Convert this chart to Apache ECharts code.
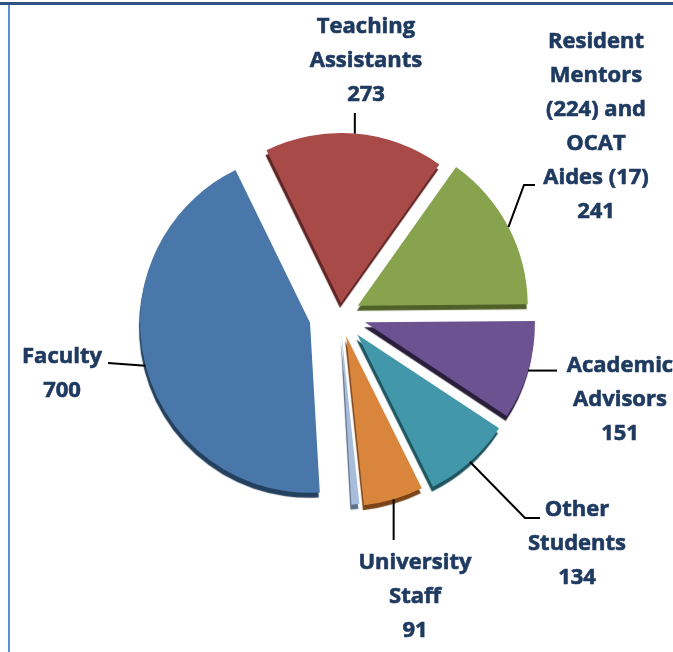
<!DOCTYPE html>
<html><head><meta charset="utf-8">
<script src="https://cdn.jsdelivr.net/npm/echarts@6/dist/echarts.min.js"></script>
<style>html,body{margin:0;padding:0;background:#fff}#c{width:673px;height:652px}</style>
</head><body><div id="c"></div>
<script>
// ---- data ----
const categories = ['Teaching\nAssistants', 'Resident\nMentors\n(224) and\nOCAT\nAides (17)', 'Academic\nAdvisors', 'Other\nStudents', 'University\nStaff', '', 'Faculty'];
const values = [273, 241, 151, 134, 91, 12, 700];
const showLabel = [true, true, true, true, true, false, true];

// ---- styles ----
const colors = ['#A84A48', '#88A34E', '#6C5290', '#4397AA', '#D9853B', '#A8BDDC', '#4A77AA'];
const shades = ['#5E2423', '#4F6129', '#2A1F3A', '#1F555F', '#7A4418', '#5F6F8A', '#24405F'];
const explode = [12, 20, 26, 26, 22, 20, 31];
// label block centres and elbow routes (layout only)
const labelPlaces = [
  {x: 366, y: 61,  route: (s) => [s, [s[0], 113]]},
  {x: 596, y: 127, route: (s) => [s, [524, 185], [535, 185]]},
  {x: 620, y: 400, route: (s) => [s, [557, s[1]]]},
  {x: 577, y: 544, route: (s) => [s, [525, 518], [540, 518]]},
  {x: 415, y: 597, route: (s) => [s, [s[0], 540]]},
  null,
  {x: 62,  y: 374, route: (s) => [s, [108, 363]]}
];
const textFont = 'bold 22px "Open Sans"';

const chart = echarts.init(document.getElementById('c'), null, {renderer: 'canvas'});

// one pie series per exploded slice so each slice can have its own offset;
// every series lays out the full data so the angles come from the library
const series = values.map((_, k) => ({
  type: 'pie',
  center: [340, 315],
  radius: [0, 170],
  startAngle: 116,
  clockwise: true,
  silent: true,
  selectedMode: 'multiple',
  selectedOffset: explode[k],
  emphasis: {disabled: true},
  label: {show: false},
  labelLine: {show: false},
  data: values.map((v, i) => ({
    name: categories[i],
    value: v,
    selected: i === k,
    itemStyle: i === k ? {
      color: colors[i],
      shadowColor: shades[i],
      shadowBlur: 1,
      shadowOffsetX: -1,
      shadowOffsetY: 5
    } : {color: 'rgba(0,0,0,0)', borderWidth: 0}
  }))
}));

const borders = [
  {type: 'rect', shape: {x: 0, y: 2, width: 673, height: 3}, style: {fill: '#2E5283'}, z: 10},
  {type: 'rect', shape: {x: 8, y: 5, width: 2, height: 647}, style: {fill: '#5B8FD4'}, z: 10}
];

chart.setOption({
  animation: false,
  backgroundColor: '#ffffff',
  graphic: borders,
  series: series
});

// Labels and leader lines placed from the library's own slice layout
const extra = [];
values.forEach((v, i) => {
  const p = labelPlaces[i];
  if (!p || !showLabel[i]) return;
  const sd = chart.getModel().getSeriesByIndex(i).getData();
  const lay = sd.getItemLayout(i);
  const mid = (lay.startAngle + lay.endAngle) / 2;
  const rr = lay.r + explode[i];
  const s = [lay.cx + Math.cos(mid) * rr, lay.cy + Math.sin(mid) * rr];
  extra.push({
    type: 'polyline', z: 20,
    shape: {points: p.route(s)},
    style: {stroke: '#000000', lineWidth: 2, fill: null}
  });
  extra.push({
    type: 'text', z: 20, x: p.x, y: p.y,
    style: {
      text: categories[i] + '\n' + v,
      font: textFont,
      lineHeight: 34,
      fill: '#1F3A60',
      stroke: '#1F3A60',
      lineWidth: 0.6,
      align: 'center',
      verticalAlign: 'middle'
    }
  });
});
chart.setOption({graphic: borders.concat(extra)});
</script>
</body></html>
